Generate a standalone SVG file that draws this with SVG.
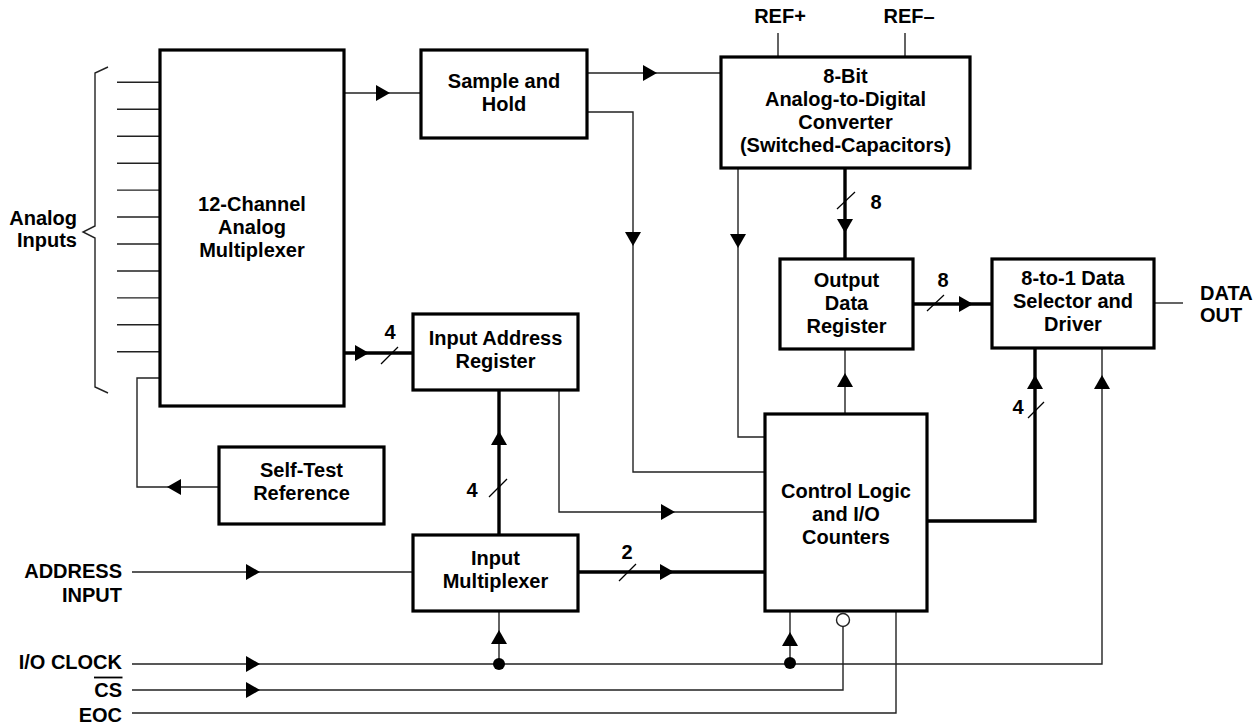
<svg xmlns="http://www.w3.org/2000/svg" width="1260" height="727" viewBox="0 0 1260 727">
<style>
.box{fill:#fff;stroke:#000;stroke-width:3.2}
.t{font-family:"Liberation Sans",Arial,sans-serif;font-weight:bold;font-size:20px;fill:#000}
.c{text-anchor:middle}
.r{text-anchor:end}
.w{fill:none;stroke:#222;stroke-width:1.4}
.bus{fill:none;stroke:#000;stroke-width:3.4}
.sl{stroke:#000;stroke-width:1.2}
</style>
<defs>
<path id="ar" d="M0,0 L-14,-8 L-14,8 Z" fill="#000"/>
</defs>
<rect width="1260" height="727" fill="#fff"/>

<g id="connectors">
  <!-- analog inputs -->
  <g class="w">
    <path d="M117,82.3H160M117,109.3H160M117,136.2H160M117,163.2H160M117,190.1H160M117,217H160M117,244H160M117,271H160M117,297.9H160M117,324.8H160M117,351.8H160"/>
    <path d="M108,67 L95,73 V226 L83,232 L95,238 V387 L108,393"/>
  </g>
  <!-- mux -> S&H -->
  <path class="w" d="M344,93H421"/><use href="#ar" x="390" y="93"/>
  <!-- S&H -> ADC -->
  <path class="w" d="M587,73H721"/><use href="#ar" x="657" y="73"/>
  <!-- S&H -> control -->
  <path class="w" d="M587,112H633V472H765"/><use href="#ar" transform="translate(633,246) rotate(90)"/>
  <!-- ADC -> control -->
  <path class="w" d="M738,168V437H765"/><use href="#ar" transform="translate(738,248) rotate(90)"/>
  <!-- REF lines -->
  <path class="w" d="M778,33V57M905,33V57"/>
  <!-- ADC -> output reg -->
  <path class="bus" d="M845,168V259"/><use href="#ar" transform="translate(845,233) rotate(90)"/>
  <path class="sl" d="M837,209L855,192"/>
  <!-- output reg -> selector -->
  <path class="bus" d="M913,304H992"/><use href="#ar" x="973" y="304"/>
  <path class="sl" d="M927,311L944,295"/>
  <!-- control -> output reg -->
  <path class="w" d="M845,414V349"/><use href="#ar" transform="translate(845,373) rotate(-90)"/>
  <!-- control -> selector -->
  <path class="bus" d="M927,521H1035V348"/><use href="#ar" transform="translate(1035,375) rotate(-90)"/>
  <path class="sl" d="M1028,418L1044,402"/>
  <!-- DATA OUT -->
  <path class="w" d="M1154,303H1183"/>
  <!-- mux -> IAR -->
  <path class="bus" d="M344,353H413"/><use href="#ar" x="369" y="353"/>
  <path class="sl" d="M381,364L398,347"/>
  <!-- input mux -> IAR -->
  <path class="bus" d="M499,535V390"/><use href="#ar" transform="translate(499,431) rotate(-90)"/>
  <path class="sl" d="M489,497L507,479"/>
  <!-- IAR -> control -->
  <path class="w" d="M559,390V512H765"/><use href="#ar" x="675" y="512"/>
  <!-- self-test -> mux -->
  <path class="w" d="M219,487H137V378H160"/><use href="#ar" transform="translate(167,487) rotate(180)"/>
  <!-- address input -->
  <path class="w" d="M132,572H413"/><use href="#ar" x="260" y="572"/>
  <!-- input mux -> control -->
  <path class="bus" d="M578,572H765"/><use href="#ar" x="674" y="572"/>
  <path class="sl" d="M619,581L636,564"/>
  <!-- I/O clock -->
  <path class="w" d="M132,664H1102V348"/><use href="#ar" x="260" y="664"/>
  <use href="#ar" transform="translate(1102,375) rotate(-90)"/>
  <path class="w" d="M499,664V611"/><use href="#ar" transform="translate(499,630) rotate(-90)"/>
  <circle cx="499" cy="664" r="6" fill="#000"/>
  <path class="w" d="M790,664V611"/><use href="#ar" transform="translate(790,632) rotate(-90)"/>
  <circle cx="790" cy="663" r="6" fill="#000"/>
  <!-- CS -->
  <path class="w" d="M132,690H843V627"/><use href="#ar" x="260" y="690"/>
  <circle cx="843" cy="620" r="6.5" fill="#fff" stroke="#222" stroke-width="1.4"/>
  <!-- EOC -->
  <path class="w" d="M132,713H896V611"/>
  <!-- bus width labels -->
  <text class="t c" x="876" y="209">8</text>
  <text class="t c" x="943" y="287">8</text>
  <text class="t c" x="1018" y="414">4</text>
  <text class="t c" x="390" y="339">4</text>
  <text class="t c" x="472" y="497">4</text>
  <text class="t c" x="627" y="559">2</text>
</g>

<g id="mux12">
  <rect class="box" x="160" y="50" width="184" height="356"/>
  <text class="t c" x="252" y="211">12-Channel</text>
  <text class="t c" x="252" y="234">Analog</text>
  <text class="t c" x="252" y="257">Multiplexer</text>
</g>
<g id="analog-inputs">
  <text class="t r" x="77" y="225">Analog</text>
  <text class="t r" x="77" y="247">Inputs</text>
</g>
<g id="sample-hold">
  <rect class="box" x="421" y="50" width="166" height="88"/>
  <text class="t c" x="504" y="88">Sample and</text>
  <text class="t c" x="504" y="111">Hold</text>
</g>
<g id="adc">
  <rect class="box" x="721" y="57" width="249" height="111"/>
  <text class="t c" x="845.5" y="83">8-Bit</text>
  <text class="t c" x="845.5" y="106">Analog-to-Digital</text>
  <text class="t c" x="845.5" y="129">Converter</text>
  <text class="t c" x="845.5" y="152">(Switched-Capacitors)</text>
</g>
<g id="refs">
  <text class="t c" x="780" y="23">REF+</text>
  <text class="t c" x="909" y="23">REF–</text>
</g>
<g id="output-reg">
  <rect class="box" x="780" y="259" width="133" height="90"/>
  <text class="t c" x="846.5" y="287">Output</text>
  <text class="t c" x="846.5" y="310">Data</text>
  <text class="t c" x="846.5" y="333">Register</text>
</g>
<g id="selector">
  <rect class="box" x="992" y="259" width="162" height="89"/>
  <text class="t c" x="1073" y="285">8-to-1 Data</text>
  <text class="t c" x="1073" y="308">Selector and</text>
  <text class="t c" x="1073" y="331">Driver</text>
</g>
<g id="data-out">
  <text class="t" x="1200" y="300">DATA</text>
  <text class="t" x="1200" y="322">OUT</text>
</g>
<g id="iar">
  <rect class="box" x="413" y="314" width="165" height="76"/>
  <text class="t c" x="495.5" y="345">Input Address</text>
  <text class="t c" x="495.5" y="368">Register</text>
</g>
<g id="self-test">
  <rect class="box" x="219" y="447" width="165" height="77"/>
  <text class="t c" x="301.5" y="477">Self-Test</text>
  <text class="t c" x="301.5" y="500">Reference</text>
</g>
<g id="input-mux">
  <rect class="box" x="413" y="535" width="165" height="76"/>
  <text class="t c" x="495.5" y="565">Input</text>
  <text class="t c" x="495.5" y="588">Multiplexer</text>
</g>
<g id="control">
  <rect class="box" x="765" y="414" width="162" height="197"/>
  <text class="t c" x="846" y="498">Control Logic</text>
  <text class="t c" x="846" y="521">and I/O</text>
  <text class="t c" x="846" y="544">Counters</text>
</g>
<g id="pins">
  <text class="t r" x="122" y="578">ADDRESS</text>
  <text class="t r" x="122" y="602">INPUT</text>
  <text class="t r" x="122" y="669">I/O CLOCK</text>
  <text class="t r" x="122" y="697">CS</text>
  <path d="M94,677.5H122.5" stroke="#000" stroke-width="1.8"/>
  <text class="t r" x="122" y="722">EOC</text>
</g>
</svg>
